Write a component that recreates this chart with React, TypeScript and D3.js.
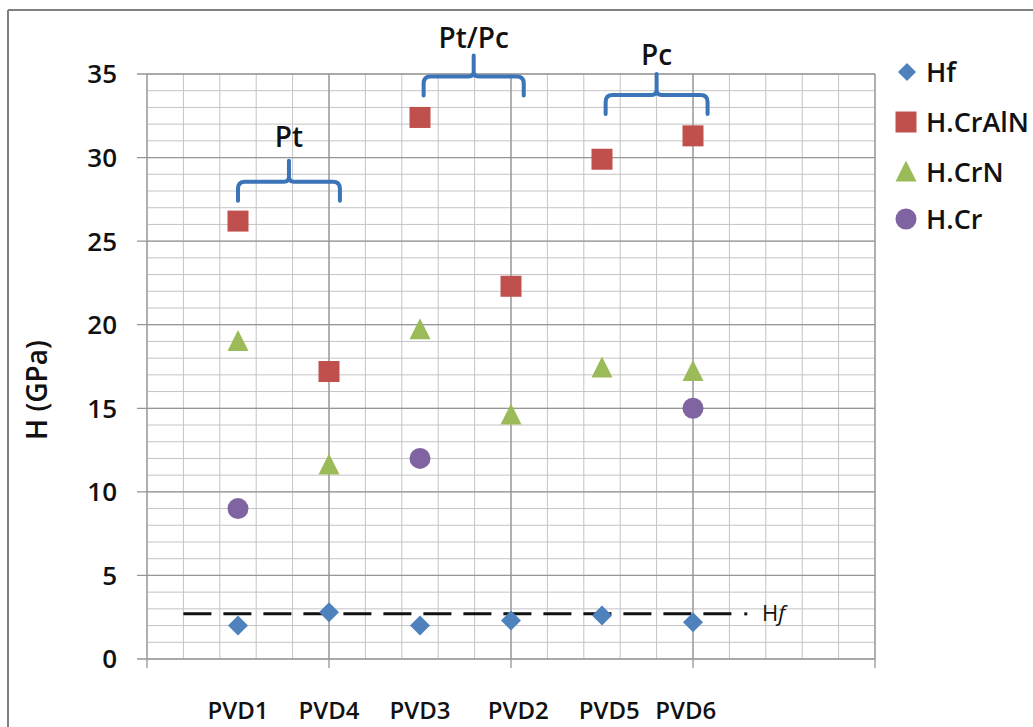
import React from "react";
import * as d3 from "d3";

const categories = ["PVD1", "PVD4", "PVD3", "PVD2", "PVD5", "PVD6"];
const categoryX = [2.5, 5, 7.5, 10, 12.5, 15];
const labelX = [2.5, 5, 7.5, 10.2, 12.7, 14.8];
const hf = [2.0, 2.8, 2.0, 2.3, 2.6, 2.2];
const hCrAlN = [26.2, 17.2, 32.4, 22.3, 29.9, 31.3];
const hCrN = [19.0, 11.6, 19.7, 14.6, 17.4, 17.2];
const hCr: (number | null)[] = [9.0, null, 12.0, null, null, 15.0];
const yTicks = [0, 5, 10, 15, 20, 25, 30, 35];
const hfLevel = 2.7;
const bracketLabels = ["Pt", "Pt/Pc", "Pc"];
const bracketX1 = [2.5, 7.6, 12.6];
const bracketX2 = [5.3, 10.35, 15.4];
const bracketY = [28.55, 34.85, 33.75];
const bracketLabelY = [30.64, 36.56, 35.55];
const legendNames = ["Hf", "H.CrAlN", "H.CrN", "H.Cr"];

const C_HF = "#4F81BD";
const C_CRALN = "#C0504D";
const C_CRN = "#9BBB59";
const C_CR = "#8064A2";
const FONT = "'Open Sans', 'Liberation Sans', sans-serif";

const W = 1033;
const H = 727;
const m = { left: 147, right: 875, top: 74, bottom: 659 };

export default function App() {
  const x = d3.scaleLinear().domain([0, 20]).range([m.left, m.right]);
  const y = d3.scaleLinear().domain([0, 35]).range([m.bottom, m.top]);

  const minorX = d3.range(0, 21);
  const minorY = d3.range(0, 36);

  const diamond = (cx: number, cy: number, r: number) =>
    `M${cx},${cy - r}L${cx + r},${cy}L${cx},${cy + r}L${cx - r},${cy}Z`;
  const triangle = (cx: number, cy: number, s: number) =>
    `M${cx},${cy - s * 0.55}L${cx + s / 2},${cy + s * 0.45}L${cx - s / 2},${cy + s * 0.45}Z`;

  const bracketPath = (x1: number, x2: number, yv: number) => {
    const a = x(x1), b = x(x2), yy = y(yv);
    const mid = (a + b) / 2;
    const drop = 19, rise = 21, r = 7;
    return `M${a},${yy + drop} L${a},${yy + r} Q${a},${yy} ${a + r},${yy} L${mid - 5},${yy} Q${mid},${yy} ${mid},${yy - 5} L${mid},${yy - rise} M${mid},${yy - 5} Q${mid},${yy} ${mid + 5},${yy} L${b - r},${yy} Q${b},${yy} ${b},${yy + r} L${b},${yy + drop}`;
  };

  const legendY = [72, 122, 172, 219];
  const legendColors = [C_HF, C_CRALN, C_CRN, C_CR];

  const marker = (i: number, cx: number, cy: number) => {
    if (i === 0) return <path d={diamond(cx, cy, 10)} fill={C_HF} />;
    if (i === 1) return <rect x={cx - 10.5} y={cy - 10.5} width={21} height={21} fill={C_CRALN} />;
    if (i === 2) return <path d={triangle(cx, cy, 21)} fill={C_CRN} />;
    return <circle cx={cx} cy={cy} r={10.5} fill={C_CR} />;
  };

  return (
    <svg width={W} height={H} style={{ position: "absolute", left: 0, top: 0, background: "#fff" }} fontFamily={FONT}>
      <rect x={0} y={0} width={W} height={H} fill="#fff" />
      {/* frame */}
      <line x1={8} y1={10} x2={W} y2={10} stroke="#808080" strokeWidth={2} />
      <line x1={8} y1={10} x2={8} y2={H} stroke="#808080" strokeWidth={2} />

      {/* minor grid */}
      {minorY.map((v) => (
        <line key={"my" + v} x1={x(0)} x2={x(20)} y1={y(v)} y2={y(v)} stroke="#c4c4c4" strokeWidth={1} />
      ))}
      {minorX.map((v) => (
        <line key={"mx" + v} x1={x(v)} x2={x(v)} y1={y(0)} y2={y(35)} stroke="#c4c4c4" strokeWidth={1} />
      ))}
      {/* major grid */}
      {yTicks.map((v) => (
        <line key={"My" + v} x1={x(0) - 10} x2={x(20)} y1={y(v)} y2={y(v)} stroke="#969696" strokeWidth={1.3} />
      ))}
      {[0, 5, 10, 15, 20].map((v) => (
        <line key={"Mx" + v} x1={x(v)} x2={x(v)} y1={y(0) + 9} y2={y(35)} stroke="#969696" strokeWidth={1.3} />
      ))}

      {/* y tick labels */}
      {yTicks.map((v) => (
        <text key={"yt" + v} x={117} y={y(v)} dy="0.36em" textAnchor="end" fontSize={26} fontWeight={600} fill="#111">
          {v}
        </text>
      ))}
      {/* y label */}
      <text transform={`translate(47,${390}) rotate(-90)`} textAnchor="middle" fontSize={28} fontWeight={600} fill="#111">
        H (GPa)
      </text>

      {/* x labels */}
      {categories.map((c, i) => (
        <text key={c} x={x(labelX[i])} y={719} textAnchor="middle" fontSize={24} fontWeight={600} fill="#111">
          {c}
        </text>
      ))}

      {/* Hf dashed line */}
      <line x1={x(1)} x2={x(16.1)} y1={y(hfLevel)} y2={y(hfLevel)} stroke="#111" strokeWidth={3} strokeDasharray="28,12" />
      <rect x={x(16.45) - 1.5} y={y(hfLevel) - 1.5} width={3} height={3} fill="#111" />
      <text x={762} y={y(hfLevel) + 7} fontSize={22} fill="#111">
        H<tspan fontStyle="italic">f</tspan>
      </text>

      {/* markers */}
      {categories.map((c, i) => (
        <g key={"m" + c}>
          {marker(0, x(categoryX[i]), y(hf[i]))}
          {marker(1, x(categoryX[i]), y(hCrAlN[i]))}
          {marker(2, x(categoryX[i]), y(hCrN[i]))}
          {hCr[i] !== null && marker(3, x(categoryX[i]), y(hCr[i] as number))}
        </g>
      ))}

      {/* brackets */}
      {bracketLabels.map((lab, i) => (
        <g key={"b" + lab}>
          <path d={bracketPath(bracketX1[i], bracketX2[i], bracketY[i])} fill="none" stroke="#3C74B8" strokeWidth={4} strokeLinecap="round" />
          <text x={(x(bracketX1[i]) + x(bracketX2[i])) / 2} y={y(bracketLabelY[i])} textAnchor="middle" fontSize={28} fontWeight={600} fill="#111">
            {lab}
          </text>
        </g>
      ))}

      {/* legend */}
      {legendNames.map((n, i) => (
        <g key={"l" + n}>
          {i === 0 ? <path d={diamond(907, legendY[i], 9)} fill={legendColors[i]} /> : marker(i, 906, legendY[i])}
          <text x={926} y={legendY[i]} dy="0.36em" fontSize={27} fontWeight={600} fill="#111">
            {n}
          </text>
        </g>
      ))}
    </svg>
  );
}
